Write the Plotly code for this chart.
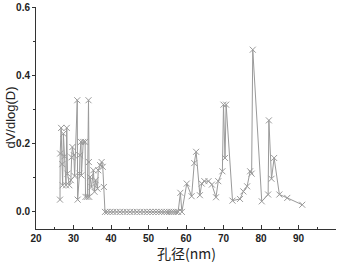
import plotly.graph_objects as go

pore_nm = [26.4, 26.45, 26.7, 27.0, 27.1, 27.3, 27.6, 28.0, 28.2, 28.4, 28.9, 29.3, 29.5, 29.7,
           30.1, 30.3, 31.0, 31.1, 31.6, 31.7, 32.0, 32.1, 32.6, 33.1, 33.2, 33.7, 34.0, 34.1,
           34.2, 34.4, 34.8, 35.3, 35.6, 35.9, 36.4, 36.6, 37.1, 37.5, 37.8, 38.1,
           38.4, 39.0, 39.8, 40.6, 41.5, 42.4, 43.3, 44.2, 45.1, 46.0, 46.9, 47.8, 48.7,
           49.6, 50.4, 51.2, 52.0, 52.8, 53.5, 54.2, 54.9, 55.5, 56.1, 56.7, 57.3, 57.9,
           58.5, 58.9, 60.2, 61.5, 62.2, 62.7, 63.7, 64.2, 64.9, 66.0, 66.9, 68.0, 68.6,
           69.7, 70.0, 70.4, 70.7, 72.4, 74.4, 75.3, 76.3, 77.1, 77.5, 77.8, 80.2, 81.9,
           82.1, 82.8, 83.5, 84.9, 87.0, 91.0]
dv_dlogd = [0.036, 0.171, 0.246, 0.14, 0.078, 0.229, 0.163, 0.078, 0.246, 0.112, 0.078, 0.093, 0.16, 0.19,
            0.166, 0.105, 0.327, 0.036, 0.112, 0.166, 0.205, 0.107, 0.205, 0.205, 0.044, 0.044, 0.327, 0.146,
            0.044, 0.102, 0.073, 0.122, 0.059, 0.093, 0.068, 0.122, 0.137, 0.146, 0.132, 0.073,
            0, 0, 0, 0, 0, 0, 0, 0, 0, 0, 0, 0, 0,
            0, 0, 0, 0, 0, 0, 0, 0, 0, 0, 0, 0, 0,
            0.056, 0, 0.083, 0.046, 0.143, 0.176, 0.049, 0.083, 0.09, 0.09, 0.08, 0.043, 0.09,
            0.119, 0.314, 0.158, 0.314, 0.033, 0.038, 0.06, 0.075, 0.119, 0.112, 0.475, 0.031, 0.051,
            0.268, 0.097, 0.158, 0.051, 0.041, 0.021]

x_ticks = [20, 30, 40, 50, 60, 70, 80, 90, 100]
y_ticks = [0.0, 0.2, 0.4, 0.6]
y_tick_labels = ["0.0", "0.2", "0.4", "0.6"]
x_title = "孔径(nm)"
y_title = "dV/dlog(D)"

fig = go.Figure()
fig.add_trace(go.Scatter(
    x=pore_nm, y=dv_dlogd, mode="lines+markers",
    line=dict(color="#9a9a9a", width=1),
    marker=dict(symbol="x-thin-open", size=6, color="#9a9a9a",
                line=dict(color="#9a9a9a", width=1)),
    showlegend=False,
))

tick_font = dict(family="Liberation Sans, Arial, sans-serif", size=10, color="#222", weight="bold")
fig.update_layout(
    width=344, height=265,
    margin=dict(l=36, r=8, t=7, b=36),
    paper_bgcolor="white", plot_bgcolor="white",
    xaxis=dict(range=[20, 100], tickvals=x_ticks, ticktext=[str(v) for v in x_ticks],
               automargin=False,
               showgrid=False, zeroline=False, showline=True, linecolor="#333", linewidth=1,
               ticks="inside", ticklen=4, tickcolor="#333",
               minor=dict(tickvals=[25, 35, 45, 55, 65, 75, 85, 95], ticks="inside", ticklen=2, tickcolor="#333"),
               tickfont=tick_font),
    yaxis=dict(range=[-0.05, 0.6], tickvals=y_ticks, ticktext=y_tick_labels,
               automargin=False,
               showgrid=False, zeroline=False, showline=True, linecolor="#333", linewidth=1,
               ticks="outside", ticklen=3, tickcolor="#333",
               minor=dict(tickvals=[0.1, 0.3, 0.5], ticks="outside", ticklen=2, tickcolor="#333"),
               tickfont=tick_font),
    annotations=[
        dict(text=x_title, xref="paper", yref="paper", x=0.5, y=-0.108, xanchor="center", yanchor="middle",
             showarrow=False, font=dict(family="Noto Sans CJK SC, sans-serif", size=14, color="#222")),
        dict(text=y_title, xref="paper", yref="paper", x=-0.088, y=0.5, xanchor="center", yanchor="middle",
             textangle=-90, showarrow=False,
             font=dict(family="Liberation Sans, Arial, sans-serif", size=13, color="#222")),
    ],
)
fig.write_html("out.html", config={"displayModeBar": False},
               post_script="document.body.style.margin='0';")
